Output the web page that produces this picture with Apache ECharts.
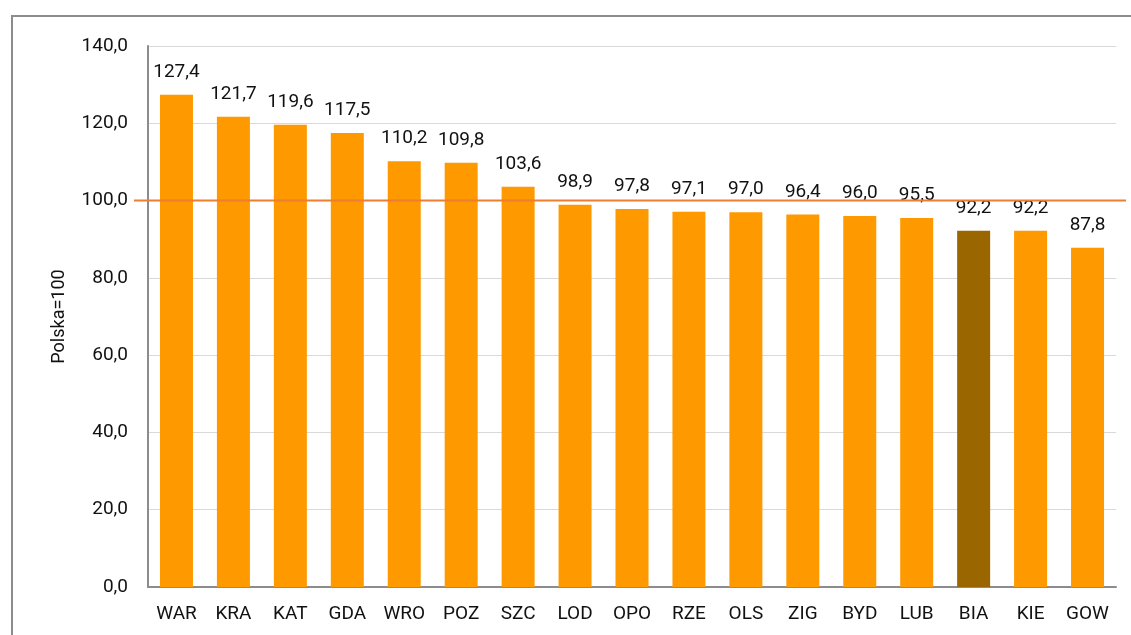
<!DOCTYPE html>
<html>
<head>
<meta charset="utf-8">
<script src="https://cdn.jsdelivr.net/npm/echarts@6/dist/echarts.min.js"></script>
<style>
  html, body { margin: 0; padding: 0; background: #fff; }
  #frame { position: absolute; left: 11px; top: 15px; width: 1200px; height: 700px;
           border-left: 2px solid #8c8c8c; border-top: 2px solid #8c8c8c; }
  #main { position: absolute; left: 0; top: 0; width: 1131px; height: 635px; }
</style>
</head>
<body>
<div id="frame"></div>
<div id="main"></div>
<script>
var cities = ['WAR', 'KRA', 'KAT', 'GDA', 'WRO', 'POZ', 'SZC', 'LOD', 'OPO', 'RZE', 'OLS', 'ZIG', 'BYD', 'LUB', 'BIA', 'KIE', 'GOW'];
var values = [127.4, 121.7, 119.6, 117.5, 110.2, 109.8, 103.6, 98.9, 97.8, 97.1, 97.0, 96.4, 96.0, 95.5, 92.2, 92.2, 87.8];
var highlight = 'BIA';
var baseline = 100;

var font = 'Roboto, sans-serif';
var fmt = function (v) { return Number(v).toFixed(1).replace('.', ','); };

var myChart = echarts.init(document.getElementById('main'));

var barData = values.map(function (v, i) {
  return {
    value: v,
    itemStyle: { color: cities[i] === highlight ? '#996600' : '#FF9900' }
  };
});

var option = {
  animation: false,
  grid: [
    { left: 148, right: 15, top: 46, bottom: 48 },
    { left: 134, right: 5, top: 46, bottom: 48 }
  ],
  xAxis: [{
    type: 'category',
    data: cities,
    gridIndex: 0,
    axisTick: { show: false },
    axisLine: { lineStyle: { color: '#8c8c8c', width: 2 } },
    axisLabel: { interval: 0, color: '#111', fontFamily: font, fontSize: 19, margin: 18 }
  }, {
    type: 'value',
    gridIndex: 1,
    min: 0,
    max: 1,
    show: false
  }],
  yAxis: [{
    type: 'value',
    gridIndex: 0,
    min: 0,
    max: 140,
    interval: 20,
    name: 'Polska=100',
    nameLocation: 'middle',
    nameGap: 80,
    nameTextStyle: { color: '#111', fontFamily: font, fontSize: 18 },
    axisLine: { show: true, lineStyle: { color: '#8c8c8c', width: 2 } },
    axisTick: { show: false },
    splitLine: { lineStyle: { color: '#d9d9d9', width: 1 } },
    axisLabel: { color: '#111', fontFamily: font, fontSize: 19, margin: 20, formatter: fmt }
  }, {
    type: 'value',
    gridIndex: 1,
    min: 0,
    max: 140,
    show: false
  }],
  series: [{
    type: 'bar',
    xAxisIndex: 0,
    yAxisIndex: 0,
    barWidth: 33,
    data: barData,
    label: {
      show: true,
      position: 'top',
      distance: 13,
      color: '#111',
      fontFamily: font,
      fontSize: 19,
      formatter: function (p) { return fmt(p.value); }
    }
  }, {
    type: 'line',
    xAxisIndex: 1,
    yAxisIndex: 1,
    z: 10,
    symbol: 'none',
    lineStyle: { color: '#ED7D31', width: 2 },
    data: [[0, baseline], [1, baseline]]
  }]
};

myChart.setOption(option);
</script>
</body>
</html>
